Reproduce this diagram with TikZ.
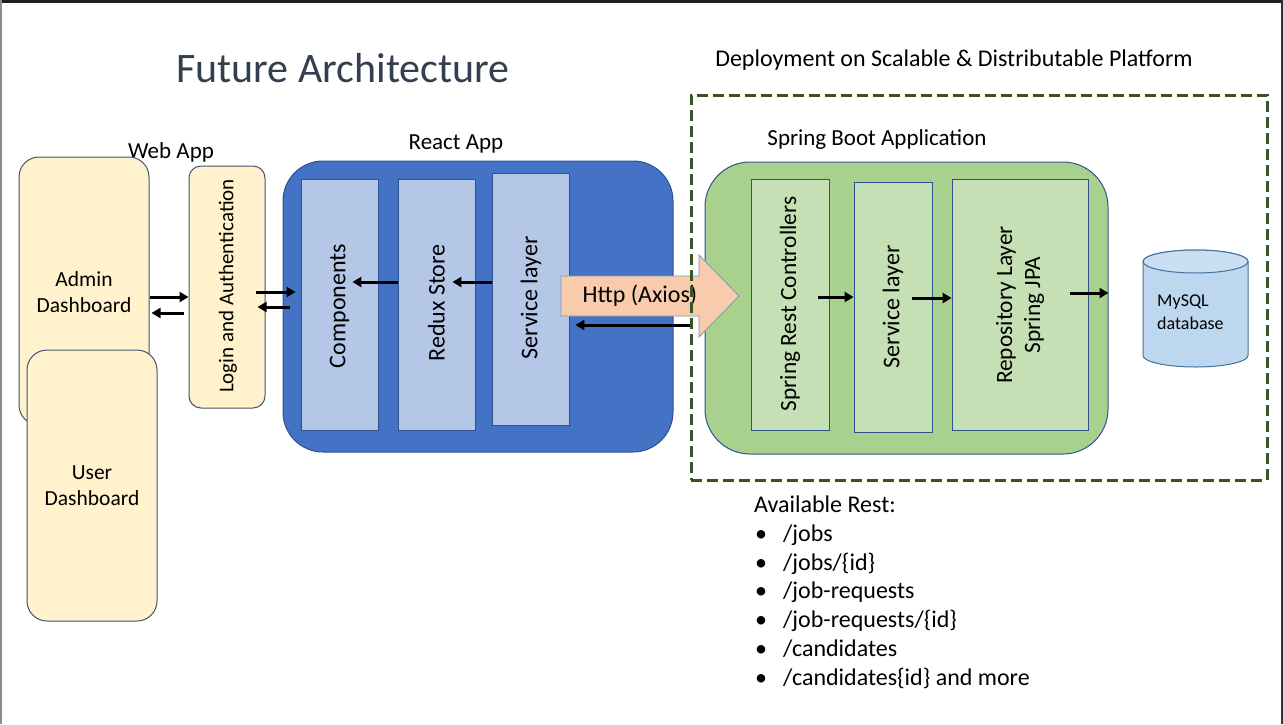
\documentclass[tikz,border=0pt]{standalone}
\usepackage{fontspec}
\setmainfont{Carlito}
\usetikzlibrary{arrows.meta,calc}
\definecolor{webfill}{HTML}{FFF2CC}
\definecolor{webdraw}{HTML}{44546A}
\definecolor{reactfill}{HTML}{4472C4}
\definecolor{bluedraw}{HTML}{2F528F}
\definecolor{lightblue}{HTML}{B4C7E7}
\definecolor{springfill}{HTML}{A9D18E}
\definecolor{lightgreen}{HTML}{C5E0B4}
\definecolor{httpfill}{HTML}{F8CBAD}
\definecolor{httpdraw}{HTML}{8497B0}
\definecolor{dashgreen}{HTML}{375623}
\definecolor{dbfill}{HTML}{BDD7EE}
\definecolor{dbtop}{HTML}{CADFF2}
\definecolor{dbdraw}{HTML}{41719C}
\definecolor{titlecol}{HTML}{333F50}
\begin{document}
\begin{tikzpicture}[x=1pt,y=1pt,
  txt/.style={font=\fontsize{24}{28}\selectfont, text=black, inner sep=0pt, align=center},
  lbl/.style={font=\fontsize{23}{28}\selectfont, text=black, inner sep=0pt},
  webbox/.style={draw=webdraw, line width=1pt, fill=webfill, rounded corners=20pt, inner sep=0pt},
  rbox/.style={draw=bluedraw, line width=0.8pt, fill=lightblue, inner sep=0pt},
  gbox/.style={draw=bluedraw, line width=0.8pt, fill=lightgreen, inner sep=0pt},
  arr/.style={line width=3pt, -{Triangle[length=9pt,width=10pt]}}
]
\useasboundingbox (0,0) rectangle (1283,-724);
\fill[white] (0,0) rectangle (1283,-724);
% frame
\fill[black!88] (0,0) rectangle (1283,-3);
\fill[black!45] (0,0) rectangle (1.5,-724);
\fill[black!80] (1280.5,0) rectangle (1283,-724);

% title and labels
\node[font=\fontsize{42}{48}\selectfont, text=titlecol, inner sep=0pt] (title) at (343,-68) {Future Architecture};
\node[lbl, font=\fontsize{24}{28}\selectfont] (deplbl) at (954,-60) {Deployment on Scalable \& Distributable Platform};
\node[lbl] (weblbl) at (171,-152) {Web App};
\node[lbl] (reactlbl) at (456,-143.5) {React App};
\node[lbl] (springlbl) at (877,-139.5) {Spring Boot Application};

% web app
\node[webbox, minimum width=130pt, minimum height=268pt] (admin) at (84,-291) {};
\node[txt, font=\fontsize{21.5}{26}\selectfont] (admintxt) at (84,-292) {Admin\\Dashboard};
\node[webbox, minimum width=130pt, minimum height=271pt] (user) at (92,-485.5) {};
\node[txt, font=\fontsize{21.5}{26}\selectfont] (usertxt) at (92,-486) {User\\Dashboard};
\node[webbox, rounded corners=12pt, minimum width=76pt, minimum height=242pt] (login) at (227,-287) {};
\node[txt, rotate=90, font=\fontsize{21}{26}\selectfont] (logintxt) at (228,-286) {Login and Authentication};

% react app
\node[draw=bluedraw, line width=1pt, fill=reactfill, rounded corners=40pt, minimum width=390pt, minimum height=291pt, inner sep=0pt] (react) at (478,-306.5) {};
\node[rbox, minimum width=77pt, minimum height=251pt] (comp) at (339.5,-304.5) {};
\node[txt, rotate=90] (comptxt) at (339.5,-306) {Components};
\node[rbox, minimum width=77pt, minimum height=251pt] (redux) at (436.5,-304.5) {};
\node[txt, rotate=90] (reduxtxt) at (436.5,-303) {Redux Store};
\node[rbox, minimum width=77pt, minimum height=252pt] (rsvc) at (530.5,-299) {};
\node[txt, rotate=90] (rsvctxt) at (531,-298) {Service layer};

% spring app
\node[draw=bluedraw, line width=1pt, fill=springfill, rounded corners=45pt, minimum width=403pt, minimum height=292pt, inner sep=0pt] (spring) at (906.5,-308) {};
\node[gbox, minimum width=78pt, minimum height=251pt] (ctrl) at (790,-304.5) {};
\node[txt, rotate=90, font=\fontsize{23.3}{28}\selectfont] (ctrltxt) at (790,-304) {Spring Rest Controllers};
\node[gbox, minimum width=78pt, minimum height=250pt] (ssvc) at (893,-307) {};
\node[txt, rotate=90] (ssvctxt) at (893,-307) {Service layer};
\node[gbox, minimum width=136pt, minimum height=251pt] (repo) at (1020,-304.5) {};
\node[txt, rotate=90, font=\fontsize{23.4}{28}\selectfont] (repotxt) at (1020,-305) {Repository Layer\\Spring JPA};

% http block arrow
\draw[draw=httpdraw, line width=0.8pt, fill=httpfill] (561,-276) -- (699,-276) -- (699,-255) -- (739,-296) -- (699,-337) -- (699,-316) -- (561,-316) -- cycle;
\node[txt] (http) at (640,-296) {Http (Axios)};

% deployment dashed box
\node[draw=dashgreen, line width=3pt, dash pattern=on 11pt off 5pt, minimum width=576pt, minimum height=385pt, inner sep=0pt] (deploy) at (979,-287.5) {};

% database
\draw[draw=dbdraw, line width=1pt, fill=dbfill] (1143,-261.5) -- (1143,-355.5) arc[start angle=180, end angle=360, x radius=52.5pt, y radius=11.5pt] -- (1248,-261.5) arc[start angle=0, end angle=180, x radius=52.5pt, y radius=11.5pt] -- cycle;
\draw[draw=dbdraw, line width=1pt, fill=dbtop] (1195.5,-261.5) ellipse[x radius=52.5pt, y radius=11.5pt];
\node[font=\fontsize{18}{23}\selectfont, align=left, inner sep=0pt, anchor=west] (db) at (1157,-312) {MySQL\\database};

% connectors
\draw[arr] (admin.east |- 0,-297) -- (login.west |- 0,-297);
\draw[arr] ($(login.west |- 0,-313)+(-5,0)$) -- ($(admin.east |- 0,-313)+(2,0)$);
\draw[arr] ($(login.east |- 0,-292)+(-10,0)$) -- ($(comp.west |- 0,-292)+(-5,0)$);
\draw[arr] ($(comp.west |- 0,-307)+(-11,0)$) -- ($(login.east |- 0,-307)+(-8,0)$);
\draw[arr] (redux.west |- 0,-282) -- ($(comp.east |- 0,-282)+(-26,0)$);
\draw[arr] (rsvc.west |- 0,-282) -- ($(redux.east |- 0,-282)+(-23,0)$);
\draw[arr] (deploy.west |- 0,-325) -- ($(rsvc.east |- 0,-325)+(6,0)$);
\draw[arr] ($(ctrl.east |- 0,-297)+(-11,0)$) -- (ssvc.west |- 0,-297);
\draw[arr] ($(ssvc.east |- 0,-298)+(-20,0)$) -- (repo.west |- 0,-298);
\draw[arr] ($(repo.east |- 0,-293)+(-18,0)$) -- (spring.east |- 0,-293);

% available rest
\node[anchor=north west, inner sep=0pt, align=left, font=\fontsize{24}{28.7}\selectfont] (rest) at (754,-496) {Available Rest:\\
\makebox[29pt][l]{\hspace{1pt}•}/jobs\\
\makebox[29pt][l]{\hspace{1pt}•}/jobs/\{id\}\\
\makebox[29pt][l]{\hspace{1pt}•}/job-requests\\
\makebox[29pt][l]{\hspace{1pt}•}/job-requests/\{id\}\\
\makebox[29pt][l]{\hspace{1pt}•}/candidates\\
\makebox[29pt][l]{\hspace{1pt}•}/candidates\{id\} and more};
\end{tikzpicture}
\end{document}
